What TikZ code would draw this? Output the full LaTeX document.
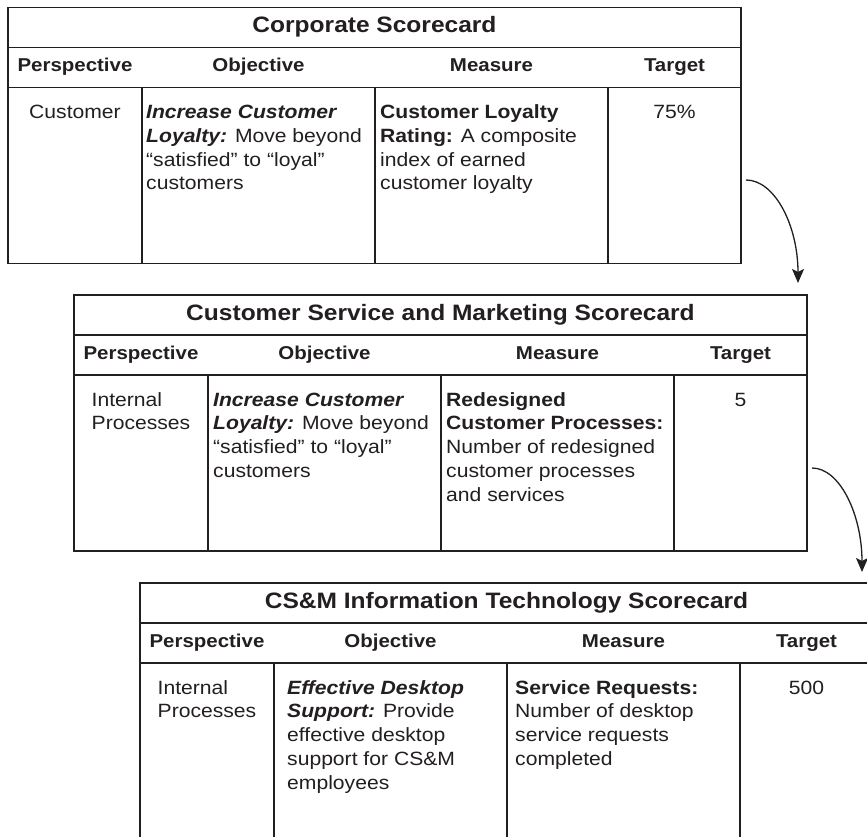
\documentclass[tikz,border=0pt]{standalone}
\usepackage{fontspec}
\setmainfont{Liberation Sans}[FakeStretch=1.1]
\usetikzlibrary{arrows.meta}
\definecolor{ink}{HTML}{231F20}
\newcommand\bodyfont{\fontsize{19.2}{23.8}\selectfont}
\newcommand\headfont{\fontsize{18.6}{22}\selectfont\bfseries}
\newcommand\titlefont{\fontsize{22.3}{26}\selectfont\bfseries}
\newcommand\bi[1]{\textbf{\textit{#1}}}
\tikzset{
  frame/.style={draw=ink, line width=1.8pt, inner sep=0pt, minimum width=733pt, minimum height=256pt},
  hrule/.style={draw=ink, line width=1.6pt},
  vrule/.style={draw=ink, line width=1.2pt},
  titletxt/.style={text=ink, inner sep=0pt, anchor=base, font=\titlefont},
  headtxt/.style={text=ink, inner sep=0pt, anchor=base, font=\headfont},
  bodytxt/.style={text=ink, inner sep=0pt, font=\bodyfont},
  flow/.style={draw=ink, line width=1.3pt, -{Stealth[length=14pt, width=12pt, inset=3pt]}}
}
\newcommand\scard[9]{%
\begin{scope}[shift={#2}]
  \node[frame] (#1f) at (366.5,128) {};
  \draw[hrule] (0,40) -- (733,40);
  \draw[hrule] (0,80) -- (733,80);
  \draw[vrule] (134,80) -- (134,256);
  \draw[vrule] (367,80) -- (367,256);
  \draw[vrule] (600,80) -- (600,256);
  \node[titletxt] (#1t) at (366.5,25) {#3};
  \node[headtxt] (#1h1) at (67,64.5) {Perspective};
  \node[headtxt] (#1h2) at (250.5,64.5) {Objective};
  \node[headtxt] (#1h3) at (483.5,64.5) {Measure};
  \node[headtxt] (#1h4) at (666.5,64.5) {Target};
  \node[bodytxt, anchor=base] (#1p) at (67,111) {\begin{tabular}[t]{@{}l@{}}#4\end{tabular}};
  \node[bodytxt, anchor=base west] (#1o) at (134+#8,111) {\begin{tabular}[t]{@{}l@{}}#5\end{tabular}};
  \node[bodytxt, anchor=base west] (#1m) at (367+#9,111) {\begin{tabular}[t]{@{}l@{}}#6\end{tabular}};
  \node[bodytxt, anchor=base] (#1g) at (666.5,111) {#7};
\end{scope}}
\begin{document}
\begin{tikzpicture}[x=1pt, y=-1pt]
\useasboundingbox (0,0) rectangle (867,837);
\clip (0,0) rectangle (867,837);
\fill[white] (0,0) rectangle (867,837);
\scard{ta}{(8,7.5)}{Corporate Scorecard}{Customer}%
  {\bi{Increase Customer}\\\bi{Loyalty:} Move beyond\\“satisfied” to “loyal”\\customers}%
  {\textbf{Customer Loyalty}\\\textbf{Rating:} A composite\\index of earned\\customer loyalty}%
  {75\%}{4}{5}
\scard{tb}{(74,295)}{Customer Service and Marketing Scorecard}{Internal\\Processes}%
  {\bi{Increase Customer}\\\bi{Loyalty:} Move beyond\\“satisfied” to “loyal”\\customers}%
  {\textbf{Redesigned}\\\textbf{Customer Processes:}\\Number of redesigned\\customer processes\\and services}%
  {5}{5}{5}
\scard{tc}{(140,583)}{CS\&M Information Technology Scorecard}{Internal\\Processes}%
  {\bi{Effective Desktop}\\\bi{Support:} Provide\\effective desktop\\support for CS\&M\\employees}%
  {\textbf{Service Requests:}\\Number of desktop\\service requests\\completed}%
  {500}{13}{8}
\coordinate (a1s) at (746,180);
\coordinate (a1e) at (798,283);
\coordinate (a2s) at (812,468);
\coordinate (a2e) at (862,572);
\draw[flow] (a1s) .. controls +(29,0) and +(0,-57) .. (a1e);
\draw[flow] (a2s) .. controls +(28,0) and +(0,-57) .. (a2e);
\end{tikzpicture}
\end{document}
